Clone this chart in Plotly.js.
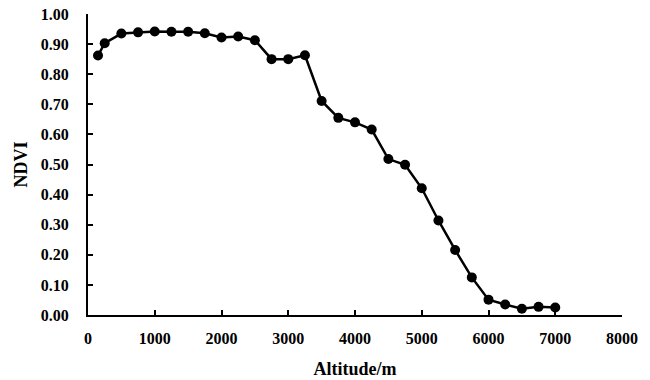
<!DOCTYPE html>
<html><head><meta charset="utf-8">
<script src="https://cdn.plot.ly/plotly-3.0.1.min.js"></script>
<style>html,body{margin:0;padding:0;background:#fff}#c{width:650px;height:380px}</style>
</head><body><div id="c"></div>
<script>
const altitude = [150,250,500,750,1000,1250,1500,1750,2000,2250,2500,2750,3000,3250,3500,3750,4000,4250,4500,4750,5000,5250,5500,5750,6000,6250,6500,6750,7000];
const ndvi = [0.862,0.903,0.935,0.939,0.942,0.941,0.941,0.936,0.922,0.925,0.913,0.850,0.850,0.863,0.711,0.655,0.640,0.616,0.518,0.499,0.421,0.314,0.216,0.125,0.051,0.035,0.021,0.027,0.025];
const xTicks = [0,1000,2000,3000,4000,5000,6000,7000,8000];
const yTicks = [0,0.1,0.2,0.3,0.4,0.5,0.6,0.7,0.8,0.9,1.0];
const font = {family:'"Liberation Serif","Times New Roman",serif', color:'#000', size:16};
Plotly.newPlot('c',[{
  x: altitude, y: ndvi, type:'scatter', mode:'lines+markers',
  line:{color:'#000', width:2.5}, marker:{color:'#000', size:10}
}],{
  width:650, height:380,
  margin:{l:88, r:28, t:14, b:65},
  paper_bgcolor:'#fff', plot_bgcolor:'#fff',
  showlegend:false,
  font: font,
  xaxis:{range:[0,8000], tickvals:xTicks, ticktext:xTicks.map(String),
    showgrid:false, zeroline:false, showline:true, linecolor:'#000', linewidth:2,
    ticks:'inside', ticklen:5, tickwidth:2, tickcolor:'#000', ticklabelstandoff:8,
    tickfont:{family:font.family, size:16, color:'#000', weight:'bold'},
    title:{text:'<b>Altitude/m</b>', font:{family:font.family, size:18, color:'#000'}, standoff:16}},
  yaxis:{range:[0,1], tickvals:yTicks, ticktext:yTicks.map(v=>v.toFixed(2)),
    showgrid:false, zeroline:false, showline:true, linecolor:'#000', linewidth:2,
    ticks:'inside', ticklen:5, tickwidth:2, tickcolor:'#000', ticklabelstandoff:14,
    tickfont:{family:font.family, size:16, color:'#000', weight:'bold'},
    title:{text:'<b>NDVI</b>', font:{family:font.family, size:18, color:'#000'}, standoff:8}}
},{displayModeBar:false, staticPlot:true});
</script></body></html>
